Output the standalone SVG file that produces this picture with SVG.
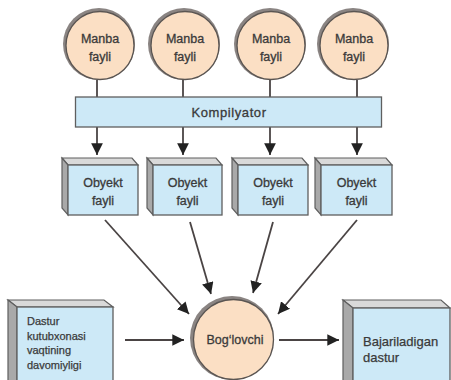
<svg xmlns="http://www.w3.org/2000/svg" width="451" height="380" viewBox="0 0 451 380">
<defs>
<style>
.txt{font-family:"Liberation Sans","DejaVu Sans",sans-serif;font-size:12.5px;fill:#3a3a3a;stroke:#3a3a3a;stroke-width:0.3;text-anchor:middle}
.ltxt{font-family:"Liberation Sans","DejaVu Sans",sans-serif;font-size:11px;fill:#3a3a3a;stroke:#3a3a3a;stroke-width:0.25}
.ring{fill:#8a8482}
.circ{fill:#fbdfc4;stroke:#5a5552;stroke-width:1.3}
.front{fill:#cde9f7;stroke:#5f5f5f;stroke-width:1.3}
.top{fill:#d9d9d9;stroke:#5f5f5f;stroke-width:1.2}
.side{fill:#a9a9a9;stroke:#5f5f5f;stroke-width:1.2}
.ln{stroke:#4a4444;stroke-width:1.8;fill:none}
</style>
<marker id="ah" viewBox="0 0 10 10" refX="10" refY="5" markerWidth="6.5" markerHeight="6.5" orient="auto" markerUnits="strokeWidth">
<path d="M0,0 L10,5 L0,10 z" fill="#222"/>
</marker>
</defs>
<rect width="451" height="380" fill="#ffffff"/>

<g id="connectors">
<line class="ln" x1="97" y1="80" x2="97" y2="97"/>
<line class="ln" x1="183" y1="80" x2="183" y2="97"/>
<line class="ln" x1="270" y1="80" x2="270" y2="97"/>
<line class="ln" x1="357" y1="80" x2="357" y2="97"/>
<line class="ln" x1="97" y1="127" x2="97" y2="155" marker-end="url(#ah)"/>
<line class="ln" x1="183" y1="127" x2="183" y2="155" marker-end="url(#ah)"/>
<line class="ln" x1="270" y1="127" x2="270" y2="155" marker-end="url(#ah)"/>
<line class="ln" x1="357" y1="127" x2="357" y2="155" marker-end="url(#ah)"/>
<line class="ln" x1="105" y1="220" x2="189" y2="314" marker-end="url(#ah)"/>
<line class="ln" x1="190" y1="222" x2="211" y2="294" marker-end="url(#ah)"/>
<line class="ln" x1="273" y1="222" x2="253" y2="293" marker-end="url(#ah)"/>
<line class="ln" x1="357" y1="220" x2="278" y2="314" marker-end="url(#ah)"/>
<line class="ln" x1="125" y1="340" x2="184" y2="340" marker-end="url(#ah)"/>
<line class="ln" x1="279" y1="340" x2="339" y2="340" marker-end="url(#ah)"/>
</g>

<g id="manba1">
<circle class="ring" cx="99" cy="44" r="36"/>
<circle class="circ" cx="100" cy="45.5" r="34"/>
<text class="txt" x="100" y="43">Manba</text>
<text class="txt" x="100" y="61">fayli</text>
</g>
<g id="manba2">
<circle class="ring" cx="184" cy="44" r="36"/>
<circle class="circ" cx="185" cy="45.5" r="34"/>
<text class="txt" x="185" y="43">Manba</text>
<text class="txt" x="185" y="61">fayli</text>
</g>
<g id="manba3">
<circle class="ring" cx="270" cy="44" r="36"/>
<circle class="circ" cx="271" cy="45.5" r="34"/>
<text class="txt" x="271" y="43">Manba</text>
<text class="txt" x="271" y="61">fayli</text>
</g>
<g id="manba4">
<circle class="ring" cx="353" cy="44" r="36"/>
<circle class="circ" cx="354" cy="45.5" r="34"/>
<text class="txt" x="354" y="43">Manba</text>
<text class="txt" x="354" y="61">fayli</text>
</g>

<g id="kompilyator">
<rect class="front" x="75.5" y="97" width="306" height="30"/>
<text class="txt" x="229" y="116.5" style="font-size:13px;letter-spacing:0.6px">Kompilyator</text>
</g>

<g id="obyekt1">
<polygon class="top" points="62,158 132,158 138,165 68,165"/>
<polygon class="side" points="62,158 68,165 68,215 62,208"/>
<rect class="front" x="68" y="165" width="70" height="50"/>
<text class="txt" x="103" y="187">Obyekt</text>
<text class="txt" x="103" y="205">fayli</text>
</g>
<g id="obyekt2">
<polygon class="top" points="147,158 216,158 222,165 153,165"/>
<polygon class="side" points="147,158 153,165 153,215 147,208"/>
<rect class="front" x="153" y="165" width="69" height="50"/>
<text class="txt" x="187.5" y="187">Obyekt</text>
<text class="txt" x="187.5" y="205">fayli</text>
</g>
<g id="obyekt3">
<polygon class="top" points="232,158 302,158 308,165 238,165"/>
<polygon class="side" points="232,158 238,165 238,215 232,208"/>
<rect class="front" x="238" y="165" width="70" height="50"/>
<text class="txt" x="273" y="187">Obyekt</text>
<text class="txt" x="273" y="205">fayli</text>
</g>
<g id="obyekt4">
<polygon class="top" points="315,158 386,158 392,165 321,165"/>
<polygon class="side" points="315,158 321,165 321,215 315,208"/>
<rect class="front" x="321" y="165" width="71" height="50"/>
<text class="txt" x="356.5" y="187">Obyekt</text>
<text class="txt" x="356.5" y="205">fayli</text>
</g>

<g id="boglovchi">
<circle class="ring" cx="232" cy="338" r="42"/>
<circle class="circ" cx="233.5" cy="339.5" r="40"/>
<text class="txt" x="235" y="344">Bog‘lovchi</text>
</g>

<g id="dastur-kutubxonasi">
<polygon class="top" points="8,300 104,300 113,307 17,307"/>
<polygon class="side" points="8,300 17,307 17,385 8,385"/>
<rect class="front" x="17" y="307" width="96" height="80"/>
<text class="ltxt" x="27" y="325">Dastur</text>
<text class="ltxt" x="27" y="339.5">kutubxonasi</text>
<text class="ltxt" x="27" y="354">vaqtining</text>
<text class="ltxt" x="27" y="368.5">davomiyligi</text>
</g>

<g id="bajariladigan">
<polygon class="top" points="343,300 441,300 450,308 353,308"/>
<polygon class="side" points="343,300 353,308 353,385 343,385"/>
<rect class="front" x="353" y="308" width="97" height="80"/>
<text class="ltxt" x="363" y="346" style="font-size:13px">Bajariladigan</text>
<text class="ltxt" x="363" y="362" style="font-size:13px">dastur</text>
</g>
</svg>
